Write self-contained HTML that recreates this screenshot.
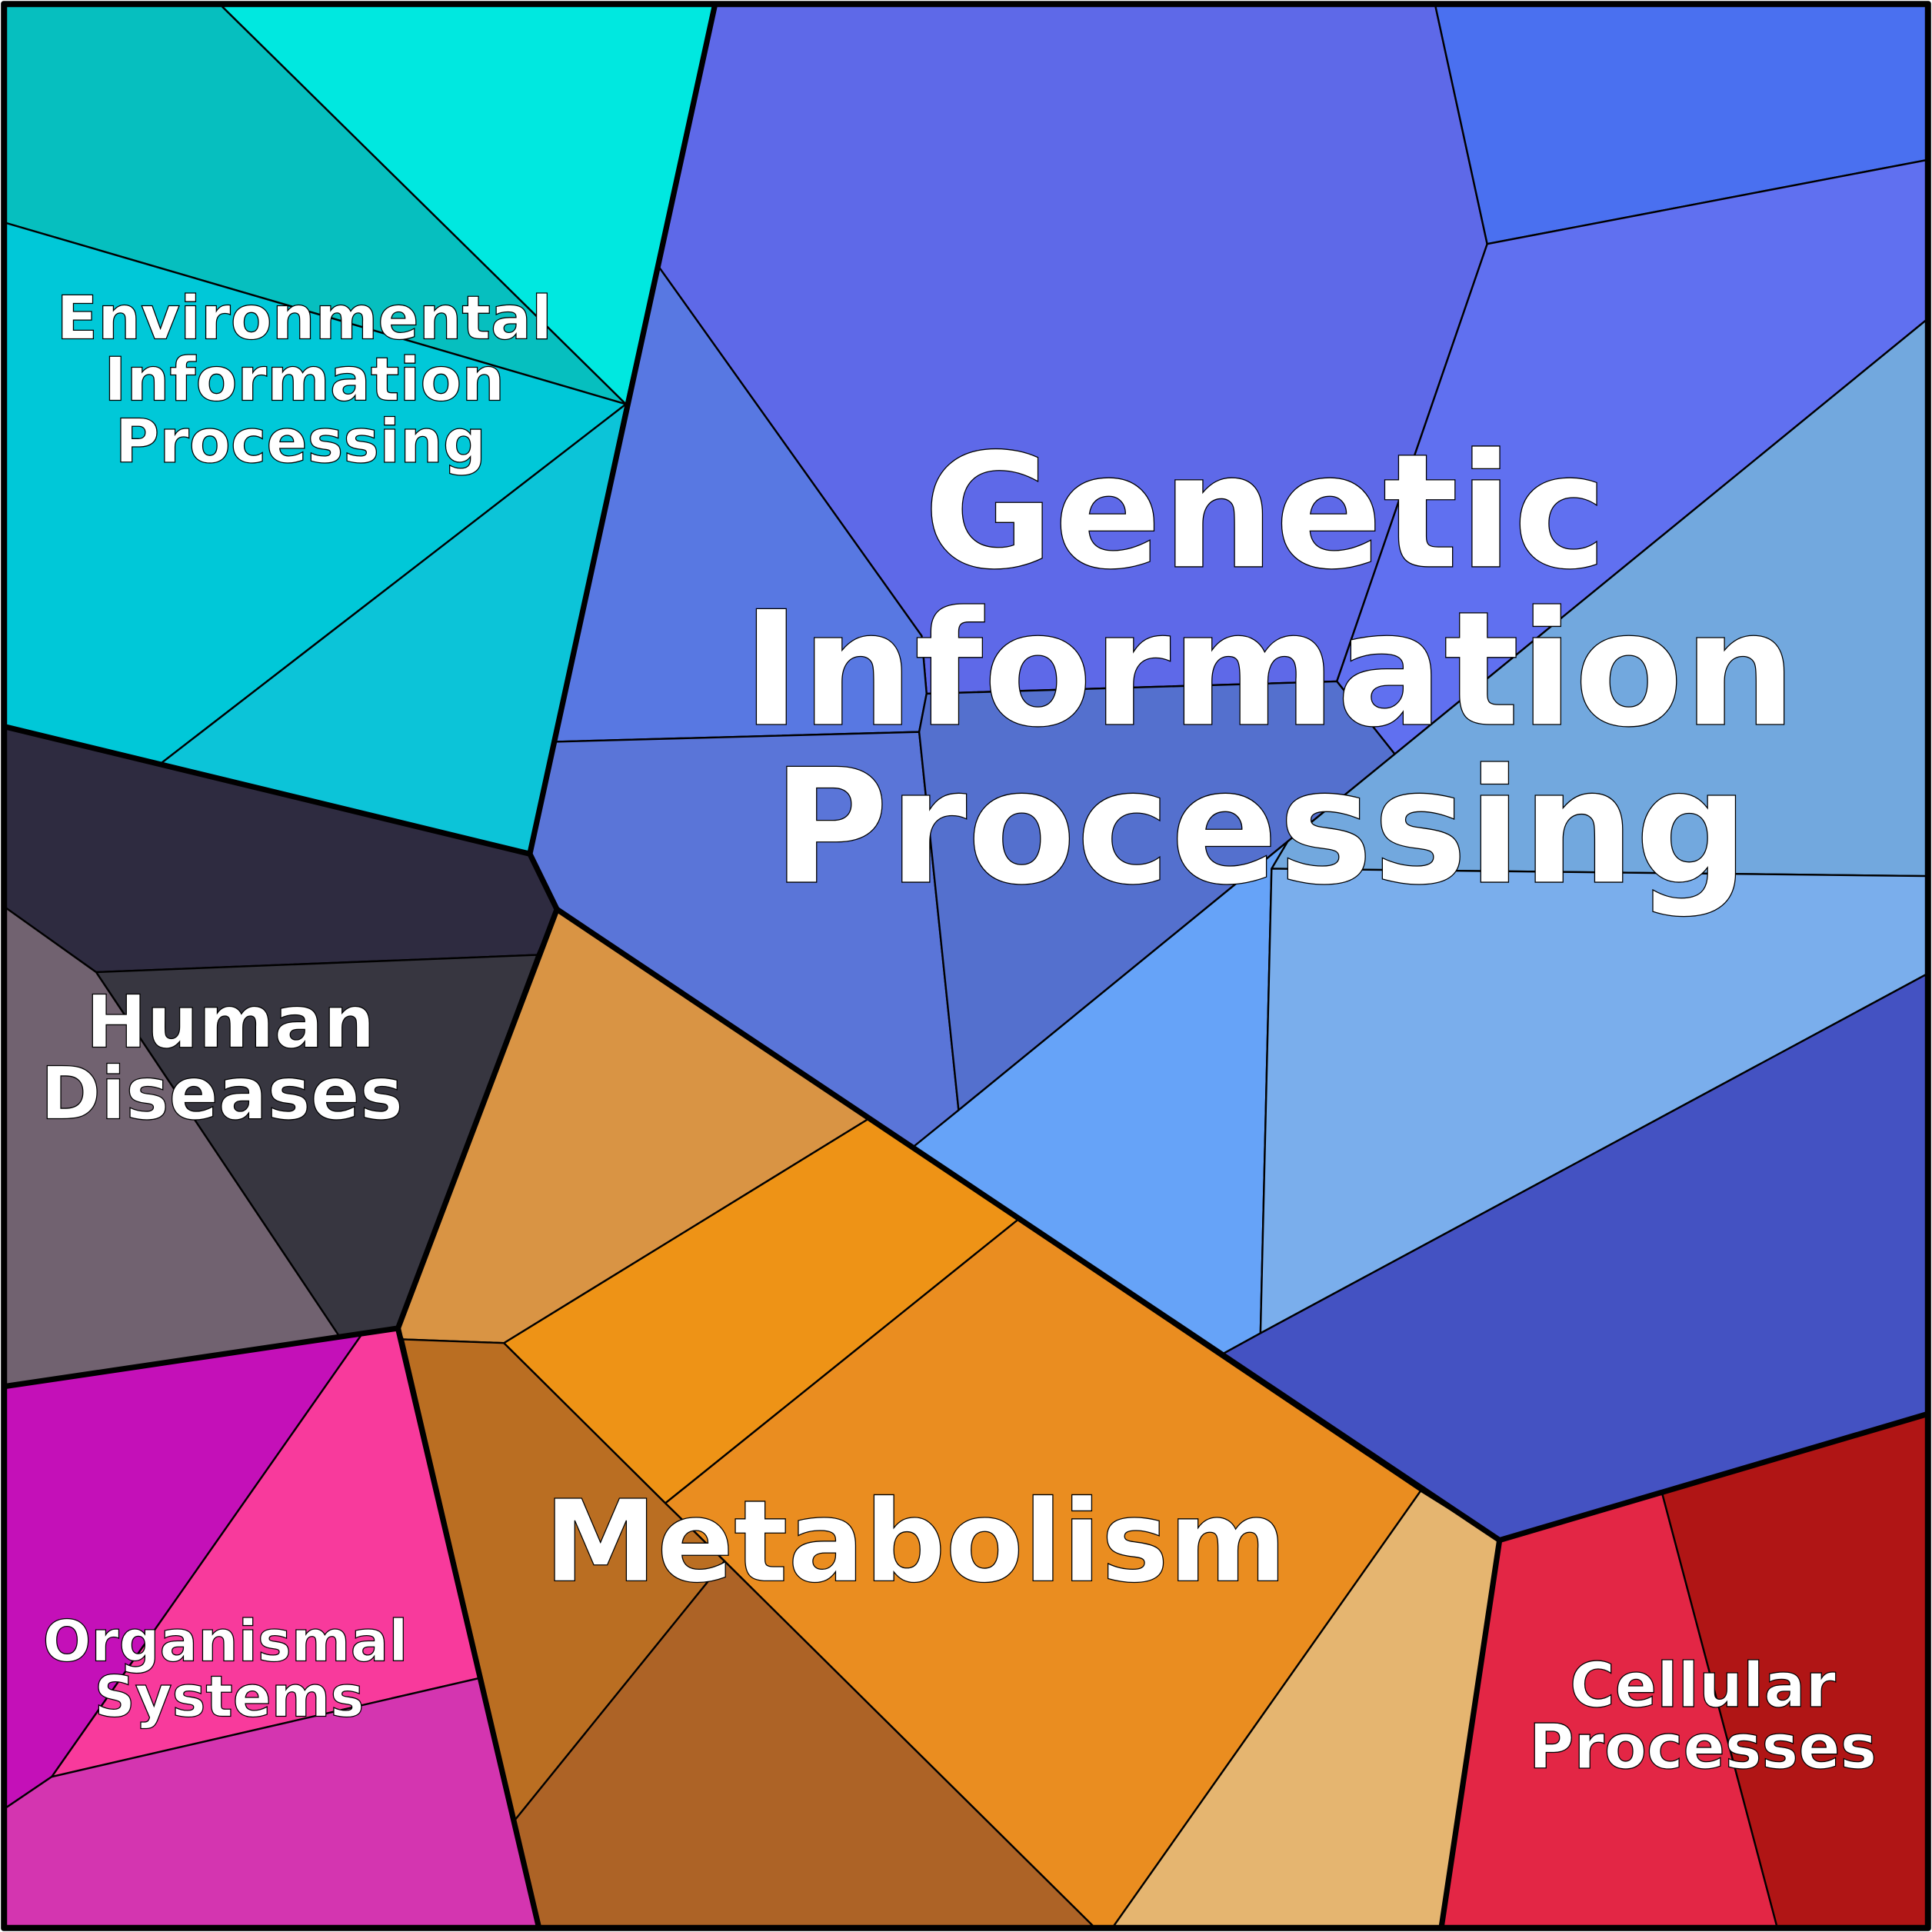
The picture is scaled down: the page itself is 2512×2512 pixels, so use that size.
<!DOCTYPE html>
<html><head><meta charset="utf-8"><style>
html,body{margin:0;padding:0;background:#fff}
svg{display:block}
text{font-family:"DejaVu Sans","Liberation Sans",sans-serif;font-weight:bold;fill:#fff;stroke:#000;stroke-width:0.8;text-anchor:middle}
</style></head><body>
<svg width="2512" height="2512" viewBox="0 0 1568 1568" xmlns="http://www.w3.org/2000/svg">
<g stroke="#000" stroke-width="1.5" stroke-linejoin="round">
<polygon fill="#06BFBF" points="5,5 180,5 508,328 5,181"/>
<polygon fill="#00E8E0" points="180,5 580,5 508,328"/>
<polygon fill="#00C8D8" points="5,181 508,328 130,620 5,590"/>
<polygon fill="#0CC4D8" points="508,328 430,693 130,620"/>
<polygon fill="#2E2B40" points="5,590 430,693 452,738 436,775 78,789 5,737"/>
<polygon fill="#373640" points="78,789 436,775 323,1078 275,1084"/>
<polygon fill="#716270" points="5,737 78,789 275,1084 5,1125"/>
<polygon fill="#C410B8" points="5,1125 295,1081 42,1442 5,1467"/>
<polygon fill="#F83A9C" points="295,1081 323,1078 389,1362 42,1442"/>
<polygon fill="#D435B0" points="5,1467 42,1442 389,1362 437,1563 5,1563"/>
<polygon fill="#D99444" points="452,738 705,908 409,1090 327,1087 323,1078"/>
<polygon fill="#EE9316" points="705,908 826,990 540,1220 409,1090"/>
<polygon fill="#EA8D20" points="826,990 1153,1210 904,1563 887,1563 588,1267 540,1220"/>
<polygon fill="#BA6E22" points="327,1087 409,1090 540,1220 588,1267 418,1477"/>
<polygon fill="#AD6326" points="418,1477 588,1267 887,1563 437,1563"/>
<polygon fill="#E5B570" points="1153,1210 1217,1250 1170,1563 904,1563"/>
<polygon fill="#E32645" points="1217,1250 1349,1212 1442,1563 1170,1563"/>
<polygon fill="#B01515" points="1349,1212 1563,1148 1563,1563 1442,1563"/>
<polygon fill="#5E69E8" points="580,5 1165,5 1207,198 1085,553 752,563 748,516 535,217"/>
<polygon fill="#4A70F0" points="1165,5 1563,5 1563,130 1207,198"/>
<polygon fill="#6070F0" points="1207,198 1563,130 1563,260 1132,612 1085,553"/>
<polygon fill="#5878E2" points="535,217 748,516 752,563 746,594 451,602"/>
<polygon fill="#5A75D8" points="451,602 746,594 778,901 741,931 452,738 430,693"/>
<polygon fill="#5470CE" points="746,594 752,563 1085,553 1132,612 1045,683 778,901"/>
<polygon fill="#72A8DE" points="1132,612 1563,260 1563,711 1032,705 1045,683"/>
<polygon fill="#66A3F8" points="1045,683 1032,705 1023,1082 992,1099 741,931 778,901"/>
<polygon fill="#7AAEEC" points="1032,705 1563,711 1563,791 1023,1082"/>
<polygon fill="#4452C2" points="1023,1082 1563,791 1563,1148 1217,1250 992,1099"/>
</g>
<g fill="none" stroke="#000" stroke-width="4.5" stroke-linejoin="round">
<polyline points="580,5 430,693 5,590"/>
<polyline points="430,693 452,738 323,1078 5,1125"/>
<polyline points="323,1078 437,1563"/>
<polyline points="452,738 1217,1250 1563,1148"/>
<polyline points="1217,1250 1170,1563"/>
<rect x="3" y="3" width="1562" height="1562"/>
</g>
<text x="247" y="275" font-size="49">Environmental</text>
<text x="247" y="325" font-size="49">Information</text>
<text x="244" y="375" font-size="49">Processing</text>
<text x="1027" y="460" font-size="129" stroke-width="1">Genetic</text>
<text x="1030" y="588" font-size="129" stroke-width="1">Information</text>
<text x="1023" y="716" font-size="129" stroke-width="1">Processing</text>
<text x="187" y="850" font-size="59">Human</text>
<text x="180" y="908" font-size="59">Diseases</text>
<text x="183" y="1348" font-size="46">Organismal</text>
<text x="186" y="1393" font-size="46">Systems</text>
<text x="743" y="1283" font-size="92" stroke-width="1">Metabolism</text>
<text x="1382" y="1385" font-size="50">Cellular</text>
<text x="1382" y="1435" font-size="50">Processes</text>
</svg>
</body></html>
